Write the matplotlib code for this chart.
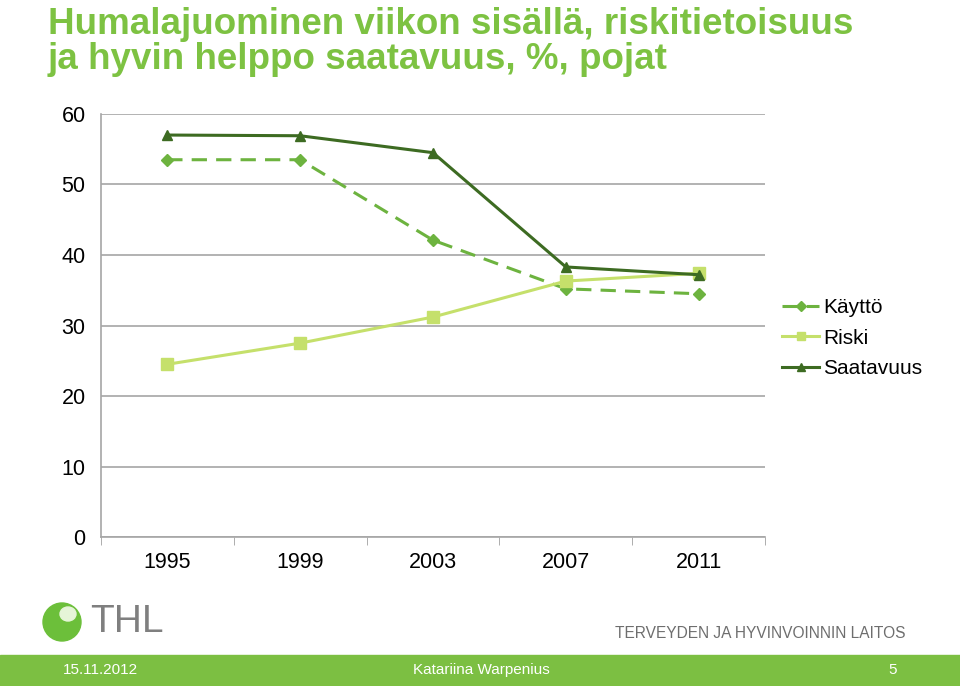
import matplotlib
matplotlib.use("Agg")
import matplotlib.pyplot as plt
from matplotlib.patches import Rectangle, Ellipse

years = ["1995", "1999", "2003", "2007", "2011"]
kaytto = [53.5, 53.5, 42.1, 35.2, 34.5]
riski = [24.5, 27.5, 31.2, 36.3, 37.4]
saatavuus = [57.0, 56.9, 54.5, 38.3, 37.2]
yticks = [0, 10, 20, 30, 40, 50, 60]

plt.rcParams['font.family'] = ['Liberation Sans', 'DejaVu Sans']

fig = plt.figure(figsize=(9.6, 6.86), dpi=100)
ax = fig.add_axes([0.105, 0.217, 0.692, 0.617])

x = range(len(years))
ax.plot(x, kaytto, color="#6db33f", lw=2.2, ls=(0, (5, 3)), marker="D", ms=6, label="Käyttö")
ax.plot(x, riski, color="#c5e06b", lw=2.2, marker="s", ms=8, label="Riski")
ax.plot(x, saatavuus, color="#3d6b22", lw=2.2, marker="^", ms=7, label="Saatavuus")

ax.set_xlim(-0.5, len(years) - 0.5)
ax.set_ylim(0, 60)
ax.set_yticks(yticks)
ax.set_yticklabels([str(v) for v in yticks], fontsize=15.5)
ax.set_xticks(list(x))
ax.set_xticklabels(years, fontsize=15.5)
ax.set_xticks([i + 0.5 for i in range(-1, len(years))], minor=True)
ax.tick_params(axis="x", which="major", length=0, pad=11)
ax.tick_params(axis="x", which="minor", length=6, color="#a0a0a0")
ax.tick_params(axis="y", length=0, pad=11)
ax.grid(axis="y", color="#a6a6a6", lw=1.2)
ax.set_axisbelow(True)
for s in ["top", "right"]:
    ax.spines[s].set_visible(False)
ax.spines["left"].set_color("#a6a6a6")
ax.spines["bottom"].set_color("#a6a6a6")
ax.spines["left"].set_linewidth(1.2)
ax.spines["bottom"].set_linewidth(1.2)

leg = ax.legend(loc="center left", bbox_to_anchor=(0.997, 0.47), frameon=False, fontsize=15,
                handlelength=1.8, handletextpad=0.2, labelspacing=0.55, markerscale=0.8)

fig.text(0.05, 0.99, "Humalajuominen viikon sisällä, riskitietoisuus\nja hyvin helppo saatavuus, %, pojat",
         color="#7dc242", fontsize=26.5, fontweight="bold", va="top", ha="left", linespacing=1.0)

# footer band
fig.patches.append(Rectangle((0, 0), 1, 31 / 686, transform=fig.transFigure, color="#7cbf42", zorder=0))
fig.text(0.066, 0.024, "15.11.2012", color="white", fontsize=11, va="center", ha="left")
fig.text(0.501, 0.024, "Katariina Warpenius", color="white", fontsize=11, va="center", ha="center")
fig.text(0.930, 0.024, "5", color="white", fontsize=11, va="center", ha="center")

# logo
fig.patches.append(Ellipse((62 / 960, 1 - 622 / 686), 38 / 960, 38 / 686, transform=fig.transFigure,
                           color="#6cbf3a", zorder=1))
fig.patches.append(Ellipse((68 / 960, 1 - 614 / 686), 16 / 960, 14 / 686, transform=fig.transFigure,
                           color="#e6f5d8", zorder=2))
fig.text(0.094, 1 - 622 / 686, "THL", color="#7f7f7f", fontsize=28, va="center", ha="left")
fig.text(0.943, 1 - 634 / 686, "TERVEYDEN JA HYVINVOINNIN LAITOS", color="#6e6e6e", fontsize=11.2,
         va="center", ha="right")

fig.savefig("out.png", dpi=100)
